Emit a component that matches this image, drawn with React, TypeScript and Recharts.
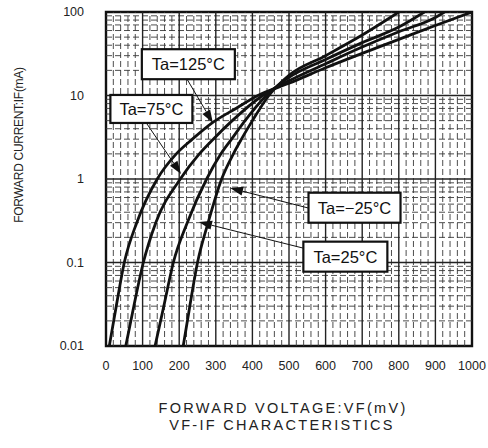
import React from "react";
import {
  LineChart,
  Line,
  XAxis,
  YAxis,
  ReferenceLine,
  ReferenceDot,
  ReferenceArea,
} from "recharts";

const voltageTicks = [0, 100, 200, 300, 400, 500, 600, 700, 800, 900, 1000];
const currentTicks = [0.01, 0.1, 1, 10, 100];

// Ta=125°C
const vf125 = [9, 28, 50, 84, 140, 192, 236, 290, 355, 415, 500, 600, 700, 800, 900, 1000];
const if125 = [0.01, 0.03, 0.1, 0.3, 1, 2, 3, 4.7, 7, 10, 14, 21.5, 32, 47, 69, 100];
// Ta=75°C
const vf75 = [54, 76, 102, 136, 203, 255, 293, 345, 428, 500, 600, 700, 800, 900, 925];
const if75 = [0.01, 0.03, 0.1, 0.3, 1, 2, 3, 5, 10, 15, 24, 38, 58, 86, 100];
// Ta=25°C
const vf25 = [134, 158, 184, 222, 275, 314, 343, 380, 438, 500, 600, 700, 800, 870];
const if25 = [0.01, 0.03, 0.1, 0.3, 1, 2, 3, 5, 10, 16.5, 27, 43, 66, 100];
// Ta=-25°C
const vfm25 = [211, 229, 250, 279, 316, 348, 370, 400, 445, 500, 600, 700, 800];
const ifm25 = [0.01, 0.03, 0.1, 0.3, 1, 2, 3, 5, 10, 17.5, 30, 53, 100];

const toPoints = (vf: number[], ma: number[]) => vf.map((v, i) => ({ vf: v, ma: ma[i] }));

const curves = [
  { name: "125", points: toPoints(vf125, if125) },
  { name: "75", points: toPoints(vf75, if75) },
  { name: "25", points: toPoints(vf25, if25) },
  { name: "-25", points: toPoints(vfm25, ifm25) },
];

// label boxes and their arrows, in mV / mA
const notes = [
  { text: "Ta=125°C", x: 225, y: 23.7, w: 93, h: 30, from: [221, 15.8], to: [292, 4.7] },
  { text: "Ta=75°C", x: 124, y: 6.9, w: 82, h: 28, from: [112, 4.56], to: [205, 1.15] },
  { text: "Ta=−25°C", x: 679, y: 0.453, w: 92, h: 30, from: [552, 0.45], to: [339, 0.78] },
  { text: "Ta=25°C", x: 654, y: 0.1175, w: 84, h: 30, from: [538, 0.149], to: [254, 0.305] },
];

// minor grid: every 20 mV, and 2..9 in each decade
const minorX: number[] = [];
for (let v = 20; v < 1000; v += 20) if (v % 100 !== 0) minorX.push(v);
const minorY: number[] = [];
[0.01, 0.1, 1, 10].forEach((d) => {
  for (let k = 2; k <= 9; k++) minorY.push(+(d * k).toPrecision(3));
});
const majorX = voltageTicks.slice(1, -1);
const majorY = currentTicks.slice(1, -1);

const font = '"Liberation Sans", Arial, sans-serif';

const Arrow = (props: any) => {
  const { x1, y1, x2, y2 } = props;
  const dx = x2 - x1;
  const dy = y2 - y1;
  const len = Math.sqrt(dx * dx + dy * dy) || 1;
  const ux = dx / len;
  const uy = dy / len;
  const hl = 13;
  const hw = 4.5;
  const bx = x2 - ux * hl;
  const by = y2 - uy * hl;
  return (
    <g>
      <line x1={x1} y1={y1} x2={bx} y2={by} stroke="#111" strokeWidth={1} />
      <polygon
        points={`${x2},${y2} ${bx - uy * hw},${by + ux * hw} ${bx + uy * hw},${by - ux * hw}`}
        fill="#111"
      />
    </g>
  );
};

const labelBox = (text: string, w: number, h: number) => (props: any) => {
  const { cx, cy } = props;
  return (
    <g>
      <rect x={cx - w / 2} y={cy - h / 2} width={w} height={h} fill="#fff" stroke="#111" strokeWidth={2.2} />
      <text
        x={cx}
        y={cy}
        dy="0.36em"
        textAnchor="middle"
        fontFamily={font}
        fontSize={16.5}
        fill="#111"
      >
        {text}
      </text>
    </g>
  );
};

export default function App() {
  return (
    <div
      style={{
        position: "absolute",
        left: 0,
        top: 0,
        width: 488,
        height: 448,
        background: "#fff",
        fontFamily: font,
        color: "#222",
      }}
    >
      <LineChart width={488} height={448} margin={{ top: 12, right: 16, left: 0, bottom: 72 }}>
        <XAxis
          type="number"
          dataKey="vf"
          domain={[0, 1000]}
          ticks={voltageTicks}
          interval={0}
          allowDataOverflow
          axisLine={false}
          tickLine={false}
          tickSize={0}
          tickMargin={15}
          height={30}
          tick={{ fontSize: 12.5, fill: "#222", fontFamily: font }}
        />
        <YAxis
          scale="log"
          domain={[0.01, 100]}
          ticks={currentTicks}
          interval={0}
          allowDataOverflow
          axisLine={false}
          tickLine={false}
          tickSize={0}
          tickMargin={22}
          width={106}
          tickFormatter={(v: number) => String(v)}
          tick={{ fontSize: 12.5, fill: "#222", fontFamily: font }}
        />
        {minorX.map((v) => (
          <ReferenceLine key={`mx${v}`} x={v} stroke="#3a3a3a" strokeWidth={0.9} strokeDasharray="6 3" />
        ))}
        {minorY.map((v) => (
          <ReferenceLine key={`my${v}`} y={v} stroke="#3a3a3a" strokeWidth={0.9} strokeDasharray="6 3" />
        ))}
        {majorX.map((v) => (
          <ReferenceLine key={`Mx${v}`} x={v} stroke="#222" strokeWidth={1.4} />
        ))}
        {majorY.map((v) => (
          <ReferenceLine key={`My${v}`} y={v} stroke="#222" strokeWidth={1.4} />
        ))}
        <ReferenceArea x1={0} x2={1000} y1={0.01} y2={100} fill="none" stroke="#111" strokeWidth={2.4} />
        {curves.map((c) => (
          <Line
            key={c.name}
            data={c.points}
            dataKey="ma"
            type="monotone"
            stroke="#111"
            strokeWidth={2.8}
            dot={false}
            isAnimationActive={false}
          />
        ))}
        {notes.map((n) => (
          <ReferenceLine
            key={`a${n.text}`}
            segment={[
              { x: n.from[0], y: n.from[1] },
              { x: n.to[0], y: n.to[1] },
            ]}
            shape={Arrow}
          />
        ))}
        {notes.map((n) => (
          <ReferenceDot key={`b${n.text}`} x={n.x} y={n.y} r={1} shape={labelBox(n.text, n.w, n.h)} />
        ))}
      </LineChart>
      <div
        style={{
          position: "absolute",
          left: 19,
          top: 145,
          transform: "translate(-50%, -50%) rotate(-90deg)",
          whiteSpace: "nowrap",
          fontSize: 12,
          letterSpacing: -0.3,
          lineHeight: 1,
        }}
      >
        FORWARD CURRENT:IF(mA)
      </div>
      <div
        style={{
          position: "absolute",
          left: 283,
          top: 408,
          transform: "translate(-50%, -50%)",
          whiteSpace: "nowrap",
          fontSize: 14.5,
          letterSpacing: 2.3,
          lineHeight: 1,
        }}
      >
        FORWARD VOLTAGE:VF(mV)
      </div>
      <div
        style={{
          position: "absolute",
          left: 282,
          top: 425,
          transform: "translate(-50%, -50%)",
          whiteSpace: "nowrap",
          fontSize: 14.5,
          letterSpacing: 2.3,
          lineHeight: 1,
        }}
      >
        VF-IF CHARACTERISTICS
      </div>
    </div>
  );
}
